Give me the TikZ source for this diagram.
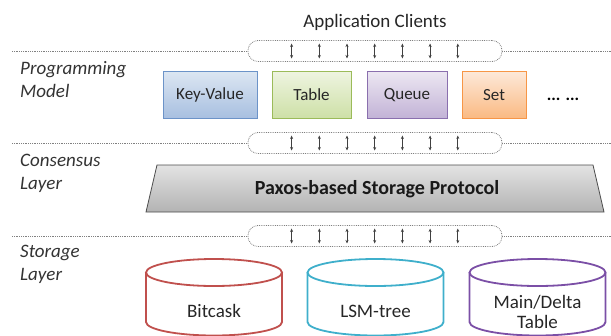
\documentclass[tikz,border=0pt]{standalone}
\usepackage{fontspec}
\setmainfont{Carlito}
\usetikzlibrary{arrows.meta,calc}

\definecolor{kvtop}{HTML}{DCE6F2}
\definecolor{kvbot}{HTML}{A7BFE0}
\definecolor{kvline}{HTML}{6C93C8}
\definecolor{tbtop}{HTML}{EEF4E0}
\definecolor{tbbot}{HTML}{CDE0A6}
\definecolor{tbline}{HTML}{9BBB59}
\definecolor{qutop}{HTML}{ECE7F2}
\definecolor{qubot}{HTML}{C2B2D6}
\definecolor{quline}{HTML}{8A6FAE}
\definecolor{sttop}{HTML}{FDE9D9}
\definecolor{stbot}{HTML}{FAB982}
\definecolor{stline}{HTML}{F79646}
\definecolor{bitred}{HTML}{C0504D}
\definecolor{lsmcyan}{HTML}{3FAFCB}
\definecolor{mdpurple}{HTML}{7B4FA6}

\begin{document}
\begin{tikzpicture}[x=1pt,y=-1pt]
\tikzset{layer label/.style={anchor=west, inner sep=0pt, align=left, text=black!80,
                             font=\itshape\fontsize{19}{23}\selectfont},
         model box/.style={line width=1pt, minimum height=47pt, inner sep=0pt,
                           text=black!85, font=\fontsize{17}{20}\selectfont},
         band/.style={draw=gray, densely dotted, line width=0.8pt, rounded corners=10pt,
                      minimum width=254pt, minimum height=21pt, inner sep=0pt},
         sep line/.style={draw=gray, densely dotted, line width=0.8pt},
         biarrow/.style={{Stealth[length=3.5pt,width=3pt]}-{Stealth[length=3.5pt,width=3pt]},
                         draw=black!75, line width=0.8pt},
         store/.style={line width=1.8pt},
         store text/.style={text=black!85, align=center, font=\fontsize{19}{20}\selectfont}}

\useasboundingbox (0,0) rectangle (611,335);

\node[text=black!85, font=\fontsize{19}{22}\selectfont] at (375, 22) (clients) {Application Clients};

% the three bands of arrows
\node[band] at (375, 51)  (band1) {};
\node[band] at (375, 143) (band2) {};
\node[band] at (375, 236) (band3) {};
\coordinate (l1) at (12, 51);   \coordinate (r1) at (611, 51);
\coordinate (l2) at (12, 143);  \coordinate (r2) at (611, 143);
\coordinate (l3) at (12, 236);  \coordinate (r3) at (611, 236);
\foreach \b in {1,2,3}{
  \draw[sep line] (l\b) -- (band\b.west);
  \draw[sep line] (band\b.east) -- (r\b);
  \foreach \i in {0,...,6}{
    \coordinate (t\b\i) at ($(band\b.west)+(44+27.7*\i,-7.5)$);
    \coordinate (u\b\i) at ($(band\b.west)+(44+27.7*\i,7.5)$);
    \draw[biarrow] (t\b\i) -- (u\b\i);
  }
}

% layer labels
\node[layer label] at (20, 79.5)  (prog) {Programming\\Model};
\node[layer label] at (20, 173.5) (cons) {Consensus\\Layer};
\node[layer label] at (20, 264.5) (stor) {Storage\\Layer};

% programming models
\node[model box, draw=kvline, top color=kvtop, bottom color=kvbot, minimum width=94pt] at (210, 95)   (kv)    {Key-Value};
\node[model box, draw=tbline, top color=tbtop, bottom color=tbbot, minimum width=79pt] at (311.5, 95) (table) {Table};
\node[model box, draw=quline, top color=qutop, bottom color=qubot, minimum width=80pt] at (407, 95)   (queue) {Queue};
\node[model box, draw=stline, top color=sttop, bottom color=stbot, minimum width=64pt] at (494, 95)   (set)   {Set};
\node[font=\bfseries\fontsize{17}{20}\selectfont] at (563, 99) (more) {... ...};

% consensus layer
\draw[draw=black!70, line width=0.8pt, top color=gray!22, bottom color=gray!60]
     (157,165) -- (593,165) -- (604,212) -- (146,212) -- cycle;
\node[text=black!90, font=\bfseries\fontsize{20}{22}\selectfont] at (377, 189) (paxos) {Paxos-based Storage Protocol};

% storage engines
\foreach \cx/\col in {214/bitred, 375.5/lsmcyan, 537.5/mdpurple}{
  \draw[store, draw=\col] (\cx-68,272.5) -- (\cx-68,322)
       arc[start angle=180, end angle=0, x radius=68, y radius=13.5] -- (\cx+68,272.5);
  \draw[store, draw=\col] (\cx,272.5) ellipse[x radius=68, y radius=13.5];
}
\node[store text] at (214, 311)   (bitcask) {Bitcask};
\node[store text] at (375.5, 311) (lsm)     {LSM-tree};
\node[store text] at (537.5, 312) (md)      {Main/Delta\\Table};
\end{tikzpicture}
\end{document}
